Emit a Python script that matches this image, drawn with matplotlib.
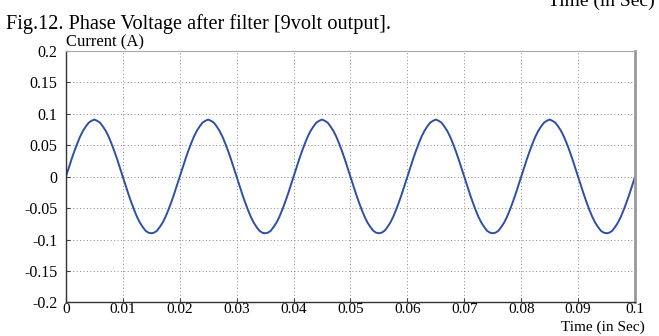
import matplotlib
matplotlib.use("Agg")
import matplotlib.pyplot as plt

# time samples (s) and current values (A), one every 0.5 ms
time_s = [i / 2000 for i in range(201)]
half_pos = [0.0, 0.014, 0.028, 0.041, 0.053, 0.064, 0.073, 0.080, 0.086, 0.089,
            0.091, 0.089, 0.086, 0.080, 0.073, 0.064, 0.053, 0.041, 0.028, 0.014]
half_neg = [0.0, -0.014, -0.028, -0.041, -0.053, -0.064, -0.073, -0.080, -0.086, -0.089,
            -0.090, -0.089, -0.086, -0.080, -0.073, -0.064, -0.053, -0.041, -0.028, -0.014]
current_a = (half_pos + half_neg) * 5 + [0.0]

x_ticks = [0, 0.01, 0.02, 0.03, 0.04, 0.05, 0.06, 0.07, 0.08, 0.09, 0.1]
x_tick_labels = ["0", "0.01", "0.02", "0.03", "0.04", "0.05", "0.06", "0.07", "0.08", "0.09", "0.1"]
y_ticks = [-0.2, -0.15, -0.1, -0.05, 0, 0.05, 0.1, 0.15, 0.2]
y_tick_labels = ["-0.2", "-0.15", "-0.1", "-0.05", "0", "0.05", "0.1", "0.15", "0.2"]

plt.rcParams['font.family'] = ['Liberation Serif', 'DejaVu Serif']

fig = plt.figure(figsize=(6.59, 3.36), dpi=100)
ax = fig.add_axes([0.100, 0.100, 0.8636, 0.748])

ax.plot(time_s, current_a, color='#2d4fa6', linewidth=1.4)

ax.set_xlim(0, 0.1)
ax.set_ylim(-0.2, 0.2)
ax.set_xticks(x_ticks)
ax.set_xticklabels(x_tick_labels)
ax.set_yticks(y_ticks)
ax.set_yticklabels(y_tick_labels)
ax.tick_params(direction='in', length=3, labelsize=11.5, color='#444444')
ax.tick_params(axis='y', pad=6)
ax.tick_params(axis='x', pad=0.5, labelsize=11)
ax.grid(True, linestyle=(0, (1, 2.5)), color='#888888', linewidth=0.7)
for side in ['left', 'bottom']:
    ax.spines[side].set_color('#333333')
    ax.spines[side].set_linewidth(1.0)
ax.spines['top'].set_color('#aaaaaa')
ax.spines['right'].set_color('#999999')
ax.spines['right'].set_linewidth(2.0)

fig.text(66 / 659, 1 - 42 / 336, "Current (A)", fontsize=12, ha='left', va='center')
fig.text(645 / 659, 1 - 327 / 336, "Time (in Sec)", fontsize=11, ha='right', va='center')
fig.text(6 / 659, 1 - 24 / 336, "Fig.12. Phase Voltage after filter [9volt output].", fontsize=14.6, ha='left', va='center')
fig.text(655 / 659, 1 - 1 / 336, "Time (in Sec)", fontsize=14, ha='right', va='center')

fig.savefig("out.png", dpi=100)
